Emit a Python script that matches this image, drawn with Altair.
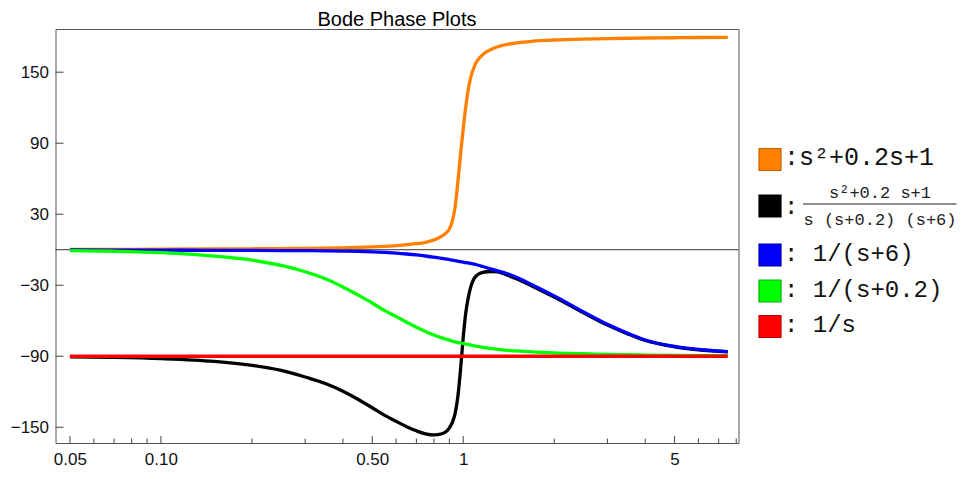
import altair as alt
import pandas as pd

# ---------------- data ----------------
freq = [0.05, 0.07, 0.1, 0.15, 0.2, 0.25, 0.3, 0.35, 0.4, 0.45, 0.5, 0.55, 0.6,
        0.65, 0.7, 0.75, 0.8, 0.85, 0.88, 0.9, 0.92, 0.94, 0.96, 0.98, 1.0, 1.02,
        1.04, 1.06, 1.08, 1.1, 1.13, 1.16, 1.2, 1.25, 1.3, 1.4, 1.5, 1.7, 2.0,
        2.5, 3.0, 3.5, 4.0, 5.0, 6.0, 7.5]

phase_quad = [0.2, 0.3, 0.4, 0.6, 0.8, 1.0, 1.2, 1.4, 1.6, 2.0, 2.4, 2.9, 3.5,
              4.3, 5.1, 6.3, 8.3, 11.5, 14.5, 17.5, 24, 36, 57, 81, 102, 121,
              136, 146, 152.5, 157.5, 161.8, 164.8, 167.6, 169.9, 171.5, 173.5, 174.8, 176.2, 177.2,
              178, 178.4, 178.7, 178.9, 179.1, 179.3, 179.5]

phase_total = [-90.5, -91, -92, -94.3, -97.7, -102, -107.5, -113, -119.5, -126.5, -133.5, -140, -145,
               -149.5, -153, -155.5, -156.5, -155.5, -153.5, -150.5, -146, -138.5, -124, -101, -74, -53,
               -40, -31, -25.5, -22.5, -20.2, -19.2, -18.6, -18.4, -18.8, -21.5, -24.5, -31, -40,
               -53.3, -63.7, -71.1, -76.7, -82, -84.5, -86.3]

phase_p6 = [-0.2, -0.3, -0.4, -0.5, -0.6, -0.7, -0.8, -0.9, -1.1, -1.4, -1.8, -2.3, -2.9,
            -3.6, -4.4, -5.3, -6.3, -7.3, -7.9, -8.3, -8.8, -9.2, -9.7, -10.1, -10.5, -10.9,
            -11.2, -11.6, -12, -12.5, -13.3, -14.2, -15.3, -16.6, -17.9, -20.3, -23.3, -30, -39,
            -52.5, -63, -70.6, -76.3, -81.7, -84.2, -86.1]

phase_p02 = [-0.7, -1.3, -2.5, -5.4, -8.8, -13.3, -18.6, -24.5, -31.5, -38.5, -45, -51.5, -56.5,
             -61.3, -65.5, -69, -72, -74.5, -75.7, -76.5, -77.2, -77.8, -78.4, -78.8, -79.2, -79.7,
             -80.1, -80.5, -81, -81.4, -81.9, -82.4, -83, -83.6, -84.2, -85, -85.5, -86.3, -87.2,
             -87.9, -88.4, -88.7, -89, -89.3, -89.5, -89.6]

phase_int = [-90] * len(freq)

chart_title = ["Bode Phase Plots"]
series_labels = [":s²+0.2s+1", ":", ": 1/(s+6)", ": 1/(s+0.2)", ": 1/s"]
frac_numerator = ["s²+0.2 s+1"]
frac_denominator = ["s (s+0.2) (s+6)"]
series_colors = ["#FF8000", "#000000", "#0000FF", "#00FF00", "#FF0000"]
swatch_edges = ["#C86000", "#000000", "#0000B0", "#00B000", "#C00000"]
series_values = [phase_quad, phase_total, phase_p6, phase_p02, phase_int]

x_major = [0.05, 0.1, 0.5, 1, 5]
x_minor = [0.06, 0.07, 0.08, 0.09, 0.2, 0.3, 0.4, 0.6, 0.7, 0.8, 0.9, 2, 3, 4, 6, 7, 8]
y_major = [-150, -90, -30, 30, 90, 150]

# ---------------- layout ----------------
W, H = 683, 414
LABEL_FONT = "Liberation Sans"
MONO = "Liberation Mono"

xscale = alt.Scale(type="log", domain=[0.0448, 8.14], nice=False)
yscale = alt.Scale(domain=[-163.3, 186.5], nice=False, zero=False)

xaxis = alt.Axis(values=x_major, title=None, grid=False, domain=False, ticks=False,
                 labelExpr="datum.value < 1 ? format(datum.value, '.2f') : format(datum.value, 'd')",
                 labelPadding=8, labelFont=LABEL_FONT, labelFontSize=17, labelColor="#111111",
                 labelFlush=False, labelOverlap=False)
yaxis = alt.Axis(values=y_major, title=None, grid=False, domain=False, ticks=False,
                 labelPadding=7, labelFont=LABEL_FONT, labelFontSize=17, labelColor="#111111",
                 labelFlush=False, labelOverlap=False)

X = alt.X("f:Q", scale=xscale, axis=xaxis)
Y = alt.Y("phase:Q", scale=yscale, axis=yaxis)

layers = []

# zero axis line
layers.append(alt.Chart(pd.DataFrame({"phase": [0]})).mark_rule(color="#333333", strokeWidth=1)
              .encode(y=Y))

# inward frame ticks
layers.append(alt.Chart(pd.DataFrame({"f": x_major})).mark_rule(color="#444444", strokeWidth=1)
              .encode(x=X, y=alt.value(H), y2=alt.value(H - 7)))
layers.append(alt.Chart(pd.DataFrame({"f": x_minor})).mark_rule(color="#444444", strokeWidth=1)
              .encode(x=X, y=alt.value(H), y2=alt.value(H - 4.5)))
layers.append(alt.Chart(pd.DataFrame({"phase": y_major})).mark_rule(color="#444444", strokeWidth=1)
              .encode(y=Y, x=alt.value(0), x2=alt.value(8)))

# curves (drawn in legend order, last on top)
for vals, col in zip(series_values, series_colors):
    df = pd.DataFrame({"f": freq, "phase": vals})
    layers.append(alt.Chart(df).mark_line(color=col, strokeWidth=3.3, interpolate="monotone")
                  .encode(x=X, y=Y))

# title
layers.append(alt.Chart(pd.DataFrame({"label": chart_title})).mark_text(
    align="center", baseline="alphabetic", font=LABEL_FONT, fontSize=20, color="#000000")
    .encode(x=alt.value(W / 2), y=alt.value(-3), text="label:N"))

# manual legend
sw_x = 714.5
sw_y = [130.5, 177, 226, 262, 297.5]
txt_x = 728.5
txt_y = [136, 184.5, 231.7, 267.7, 303.3]
for i in range(5):
    one = pd.DataFrame({"label": [series_labels[i]]})
    layers.append(alt.Chart(one).mark_square(size=484, color=series_colors[i], stroke=swatch_edges[i],
                                             strokeWidth=1.2, opacity=1, filled=True)
                  .encode(x=alt.value(sw_x), y=alt.value(sw_y[i])))
    layers.append(alt.Chart(one).mark_text(align="left", baseline="alphabetic", font=MONO,
                                           fontSize=25 if i == 0 else 24, color="#111111")
                  .encode(x=alt.value(txt_x), y=alt.value(txt_y[i]), text="label:N"))

frac_cx = 824.5
layers.append(alt.Chart(pd.DataFrame({"label": frac_numerator})).mark_text(
    align="center", baseline="alphabetic", font=MONO, fontSize=17, color="#222222")
    .encode(x=alt.value(frac_cx), y=alt.value(169.3), text="label:N"))
layers.append(alt.Chart(pd.DataFrame({"label": frac_denominator})).mark_text(
    align="center", baseline="alphabetic", font=MONO, fontSize=17, color="#222222")
    .encode(x=alt.value(frac_cx), y=alt.value(196), text="label:N"))
layers.append(alt.Chart(pd.DataFrame({"label": frac_numerator})).mark_rule(color="#222222", strokeWidth=1)
              .encode(x=alt.value(747.5), x2=alt.value(901), y=alt.value(175)))

chart = alt.layer(*layers).properties(
    width=W, height=H,
    autosize=alt.AutoSizeParams(type="none"),
    padding={"left": 47.5, "top": 21, "right": 218.5, "bottom": 28},
).configure_view(stroke="#555555", strokeWidth=1)

chart.save("out.html", embed_options={"renderer": "svg", "actions": False})
